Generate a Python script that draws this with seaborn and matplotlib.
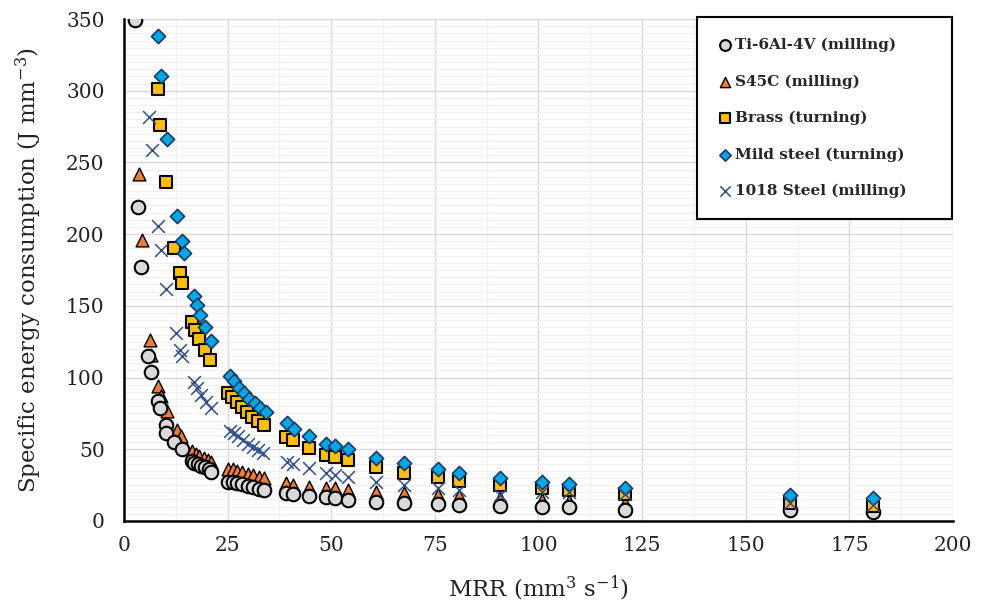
import numpy as np
import pandas as pd
import matplotlib
matplotlib.use('Agg')
import matplotlib.pyplot as plt
import seaborn as sns
from matplotlib.ticker import MultipleLocator

# ---------------- data ----------------
ti_x = [2.6, 3.5, 4.1, 5.9, 6.5, 8.3, 8.7, 10.1, 10.2, 12.1, 13.9, 16.3, 17.0, 17.8, 18.6, 19.5,
        20.4, 20.9, 25.2, 26.2, 27.3, 28.5, 29.8, 31.1, 32.5, 33.8, 39.1, 40.7, 44.6, 48.7, 50.9,
        54.0, 60.8, 67.6, 75.8, 80.9, 90.7, 100.8, 107.4, 120.9, 160.7, 180.6]
ti_y = [349, 219, 177, 115, 104, 84, 79, 67, 61, 55, 50, 41.5, 40.5, 39.5, 38.5, 37.5,
        36, 34.5, 27.5, 27, 26.5, 25.5, 24.5, 23.5, 22.5, 21.5, 19.5, 18.5, 17.4, 17, 15.8,
        14.6, 13.5, 12.8, 11.9, 11.2, 10.5, 9.5, 9.5, 7.7, 7.7, 6.5]

s45c_x = [3.6, 4.3, 6.3, 6.4, 8.3, 8.9, 10.3, 12.7, 13.7, 16.5, 17.3, 18.2, 19.2, 20.2, 21.0,
          25.2, 26.2, 27.3, 28.5, 29.8, 31.1, 32.5, 33.8, 39.1, 40.7, 44.6, 48.7, 50.9, 54.0,
          60.8, 67.6, 75.8, 80.9, 90.7, 100.8, 107.4, 120.9]
s45c_y = [242, 196, 126, 116, 94, 87, 77, 63.5, 59, 48.5, 47, 45.5, 44, 42.5, 41,
          36.5, 36, 35, 34, 33, 32, 31, 30, 26.3, 25.1, 24, 22.8, 22.8, 21.6,
          20.4, 19.7, 18.1, 17.4, 15.8, 14.6, 13.9, 12.3]

brass_x = [8.1, 8.8, 10.2, 12.1, 13.6, 14.1, 16.3, 17.1, 18.2, 19.5, 20.7, 25.0, 26.0, 27.2,
           28.4, 29.7, 31.0, 32.4, 33.8, 39.1, 40.7, 44.6, 48.7, 50.9, 54.0, 60.8, 67.6, 75.8,
           80.9, 90.7, 100.8, 107.4, 120.9, 160.7, 180.6]
brass_y = [301.5, 276, 236.6, 190, 173, 166, 139, 133, 127, 119, 112, 89, 86.5, 83,
           79.5, 76, 72.5, 69.5, 67, 58.4, 56.5, 50.7, 46, 44.9, 42.5, 37.9, 33.7, 30.5,
           28.1, 25.1, 22.8, 21.6, 18.8, 12.3, 10.5]

mild_x = [8.3, 8.9, 10.3, 12.7, 13.9, 14.5, 16.9, 17.7, 18.3, 19.5, 20.9, 25.6, 26.6, 27.8,
          28.9, 30.2, 31.6, 32.9, 34.3, 39.3, 41.0, 44.6, 48.7, 50.9, 54.0, 60.8, 67.6, 75.8,
          80.9, 90.7, 100.8, 107.4, 120.9, 160.7, 180.6]
mild_y = [338, 310, 266, 213, 195, 187, 157, 150.6, 143.7, 135.5, 125.7, 101, 97.5, 93,
          89, 85, 82, 79, 76, 68, 64, 59, 54, 52, 50, 44, 40.2, 36,
          33.7, 29.8, 27.4, 25.6, 23.2, 18.1, 15.8]

st1018_x = [6.1, 6.8, 8.1, 8.9, 10.1, 12.5, 13.5, 13.9, 16.9, 17.7, 18.7, 19.8, 20.9, 25.5,
            26.6, 27.6, 28.8, 30.0, 31.2, 32.4, 33.6, 39.3, 40.7, 44.6, 48.7, 50.9, 54.0, 60.8,
            67.6, 75.8, 80.9, 90.7, 100.8, 107.4, 120.9, 160.7, 180.6]
st1018_y = [282, 259, 206, 189, 162, 131, 119, 115, 97, 92.5, 88, 83, 78.6, 63,
            61, 59, 56.5, 54, 51.5, 49.5, 47.5, 41.4, 39.8, 36.7, 33.2, 32.1, 30.9, 27.4,
            25.1, 22.8, 21.6, 18.1, 20.5, 20, 18.5, 12.5, 11]

labels = ["Ti-6Al-4V (milling)", "S45C (milling)", "Brass (turning)",
          "Mild steel (turning)", "1018 Steel (milling)"]
x_ticks = [0, 25, 50, 75, 100, 125, 150, 175, 200]
y_ticks = [0, 50, 100, 150, 200, 250, 300, 350]

# ---------------- style ----------------
sns.set_theme(style='white')
plt.rcParams['font.family'] = ['DejaVu Serif']
plt.rcParams['mathtext.default'] = 'regular'

fig = plt.figure(figsize=(9.84, 6.06), dpi=100)
ax = fig.add_axes([0.126, 0.1403, 0.8425, 0.8283])

styles = [
    dict(marker='o', s=95, color='#D9D9D9', edgecolor='black', linewidth=1.5, zorder=4),
    dict(marker='^', s=85, color='#ED7D31', edgecolor='black', linewidth=1.0, zorder=3),
    dict(marker='s', s=85, color='#FFC000', edgecolor='black', linewidth=1.5, zorder=5),
    dict(marker='D', s=52, color='#00A8E8', edgecolor='#1F3864', linewidth=1.2, zorder=6),
    dict(marker='x', s=85, color='#2F4F8F', linewidth=1.1, zorder=7),
]
data = [(ti_x, ti_y), (s45c_x, s45c_y), (brass_x, brass_y), (mild_x, mild_y), (st1018_x, st1018_y)]

for (xs, ys), lab, st in zip(data, labels, styles):
    df = pd.DataFrame({'MRR': xs, 'SEC': ys})
    sns.scatterplot(data=df, x='MRR', y='SEC', ax=ax, label=lab, **st)

ax.set_xlim(0, 200)
ax.set_ylim(0, 350)
ax.set_xticks(x_ticks)
ax.set_yticks(y_ticks)
ax.xaxis.set_minor_locator(MultipleLocator(12.5))
ax.yaxis.set_minor_locator(MultipleLocator(5))
ax.grid(which='major', color='#D9D9D9', linewidth=1.0)
ax.grid(which='minor', color='#F0F0F0', linewidth=0.8)
ax.set_axisbelow(True)
ax.tick_params(which='both', length=0, labelsize=14.5, colors='#222222')
ax.tick_params(axis='x', pad=11)
ax.tick_params(axis='y', pad=14)

for sp in ['top', 'right']:
    ax.spines[sp].set_visible(False)
for sp in ['left', 'bottom']:
    ax.spines[sp].set_color('black')
    ax.spines[sp].set_linewidth(1.8)

ax.set_xlabel('MRR (mm$^3$ s$^{-1}$)', fontsize=16.5, labelpad=13, color='#222222')
ax.set_ylabel('Specific energy consumption (J mm$^{-3}$)', fontsize=16.5, labelpad=16, color='#222222')

leg = ax.legend(loc='upper left', bbox_to_anchor=(0.691, 0.60, 0.308, 0.404), mode='expand',
                frameon=True, fancybox=False,
                edgecolor='black', facecolor='white', framealpha=1,
                prop={'weight': 'bold', 'size': 11}, labelspacing=1.45, borderpad=1.35,
                handletextpad=0.15, handlelength=1.0, borderaxespad=0, markerscale=0.8)
leg.get_frame().set_linewidth(1.5)
leg.set_zorder(10)

fig.savefig('out.png', dpi=100)
